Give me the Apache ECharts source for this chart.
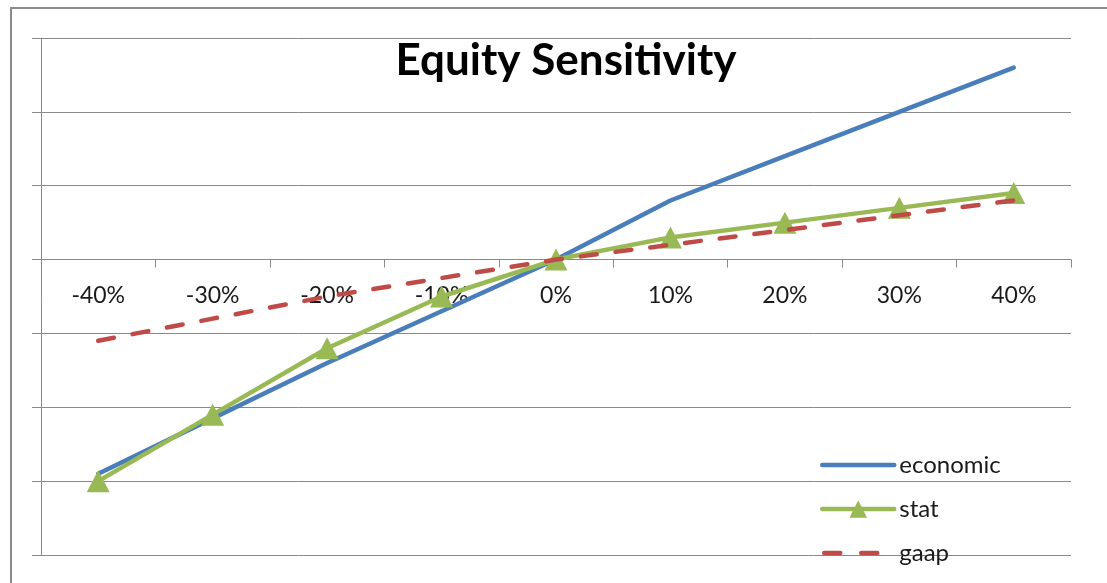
<!DOCTYPE html>
<html>
<head>
<meta charset="utf-8">
<script src="https://cdn.jsdelivr.net/npm/echarts@6/dist/echarts.min.js"></script>
<style>
  html, body { margin: 0; padding: 0; background: #fff; }
  #chart { width: 1107px; height: 583px; }
</style>
</head>
<body>
<div id="chart"></div>
<script>
// Shock scenarios along the x axis
const categories = ['-40%', '-30%', '-20%', '-10%', '0%', '10%', '20%', '30%', '40%'];

// Change in equity under each shock, per measurement basis
const economic = [-2.9, -2.15, -1.4, -0.7, 0, 0.8, 1.4, 2.0, 2.6];
const stat     = [-3.0, -2.1, -1.2, -0.5, 0, 0.3, 0.5, 0.7, 0.9];
const gaap     = [-1.1, -0.8, -0.5, -0.25, 0, 0.2, 0.4, 0.6, 0.8];

// Value axis range
const Y_MIN = -4;
const Y_MAX = 3;

const FONT = 'Lato, "Liberation Sans", sans-serif';
const GRID_GRAY = '#898989';
const BLUE = '#4a7ebb';
const GREEN = '#98b954';
const RED = '#be4b48';
const LINE_W = 4.5;

const GRID = { left: 41, right: 36, top: 38, bottom: 28 };
const CHART_H = 583;
// The category axis sits on the zero line: lift it from the grid bottom by
// the distance between the bottom edge and value 0.
const plotH = CHART_H - GRID.top - GRID.bottom;
const zeroOffset = -plotH * (0 - Y_MIN) / (Y_MAX - Y_MIN);

const chart = echarts.init(document.getElementById('chart'), null, { renderer: 'canvas' });

chart.setOption({
  animation: false,
  backgroundColor: '#ffffff',
  graphic: [{
    type: 'rect',
    silent: true,
    shape: { x: 11, y: 8, width: 1200, height: 700 },
    style: { fill: 'none', stroke: '#8a8a8a', lineWidth: 2 }
  }],
  title: {
    text: 'Equity Sensitivity',
    left: 566,
    textAlign: 'center',
    top: 39,
    padding: 0,
    textStyle: { fontFamily: FONT, fontWeight: 'bold', fontSize: 44, color: '#000' }
  },
  legend: {
    orient: 'vertical',
    left: 820,
    top: 453,
    padding: 0,
    itemWidth: 72,
    itemHeight: 22,
    itemGap: 20,
    textStyle: { fontFamily: FONT, fontSize: 24, color: '#1a1a1a' },
    data: [
      { name: 'economic', itemStyle: { opacity: 0 }, lineStyle: { width: LINE_W, color: BLUE, cap: 'round' } },
      { name: 'stat', lineStyle: { width: LINE_W, color: GREEN, cap: 'round' } },
      { name: 'gaap', itemStyle: { opacity: 0 }, lineStyle: { width: LINE_W, color: RED, type: [16, 21], dashOffset: -2, cap: 'round' } }
    ]
  },
  grid: Object.assign({ containLabel: false, outerBoundsMode: 'none' }, GRID),
  xAxis: {
    type: 'category',
    data: categories,
    boundaryGap: true,
    position: 'bottom',
    offset: zeroOffset,
    axisLine: { show: true, onZero: false, lineStyle: { color: GRID_GRAY, width: 1 } },
    axisTick: { show: true, length: 8, alignWithLabel: false, lineStyle: { color: GRID_GRAY } },
    axisLabel: { margin: 25, fontFamily: FONT, fontSize: 23, color: '#1a1a1a' },
    splitLine: { show: false }
  },
  yAxis: {
    type: 'value',
    min: Y_MIN,
    max: Y_MAX,
    interval: 1,
    axisLine: { show: true, lineStyle: { color: GRID_GRAY, width: 1 } },
    axisTick: { show: true, length: 9, lineStyle: { color: GRID_GRAY } },
    axisLabel: { show: false },
    splitLine: { show: true, lineStyle: { color: GRID_GRAY, width: 1 } }
  },
  series: [
    {
      name: 'economic',
      type: 'line',
      data: economic,
      symbol: 'none',
      lineStyle: { color: BLUE, width: LINE_W, cap: 'round' },
      itemStyle: { color: BLUE },
      z: 2
    },
    {
      name: 'stat',
      type: 'line',
      data: stat,
      symbol: 'triangle',
      symbolSize: [23, 22],
      showAllSymbol: true,
      lineStyle: { color: GREEN, width: LINE_W, cap: 'round' },
      itemStyle: { color: GREEN, borderWidth: 0 },
      z: 3
    },
    {
      name: 'gaap',
      type: 'line',
      data: gaap,
      symbol: 'none',
      lineStyle: { color: RED, width: LINE_W, type: [16, 19], cap: 'round' },
      itemStyle: { color: RED },
      z: 4
    }
  ]
});
</script>
</body>
</html>
